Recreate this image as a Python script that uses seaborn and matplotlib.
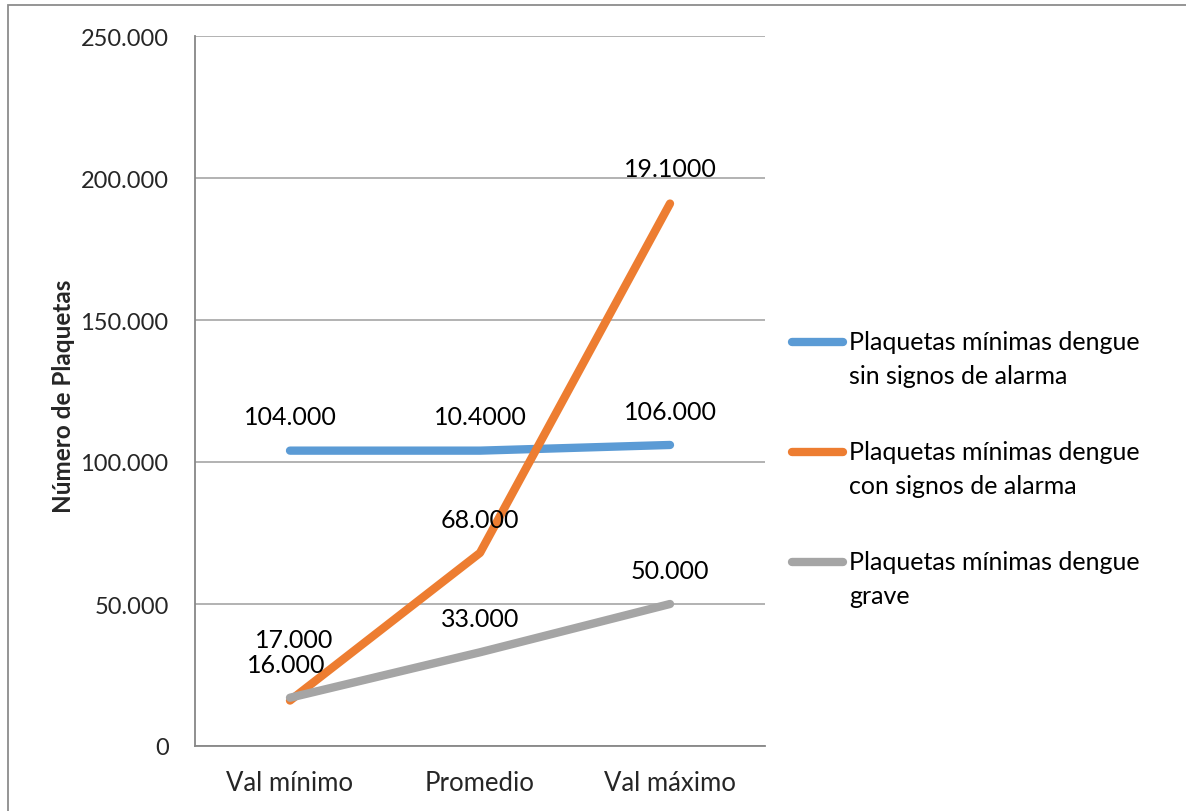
import matplotlib
matplotlib.use("Agg")
import matplotlib.pyplot as plt
from matplotlib.lines import Line2D
from matplotlib.patches import Rectangle
import seaborn as sns
import pandas as pd

# Data
categories = ["Val mínimo", "Promedio", "Val máximo"]
series_names = [
    "Plaquetas mínimas dengue\nsin signos de alarma",
    "Plaquetas mínimas dengue\ncon signos de alarma",
    "Plaquetas mínimas dengue\ngrave",
]
sin_alarma = [104000, 104000, 106000]
con_alarma = [16000, 68000, 191000]
grave = [17000, 33000, 50000]

# Data labels as printed on the chart
sin_alarma_labels = ["104.000", "10.4000", "106.000"]
con_alarma_labels = ["16.000", "68.000", "19.1000"]
grave_labels = ["17.000", "33.000", "50.000"]

y_ticks = [0, 50000, 100000, 150000, 200000, 250000]
y_tick_labels = ["0", "50.000", "100.000", "150.000", "200.000", "250.000"]

colors = ["#5B9BD5", "#ED7D31", "#A5A5A5"]

sns.set_theme(style="white")
plt.rcParams["font.family"] = ["Lato", "DejaVu Sans"]

W, H = 1186, 812
LW = 6.0

values = [sin_alarma, con_alarma, grave]
df = pd.DataFrame(
    [
        {"Categoría": c, "pos": i, "Serie": s, "Valor": v}
        for s, vals in zip(series_names, values)
        for i, (c, v) in enumerate(zip(categories, vals))
    ]
)

fig = plt.figure(figsize=(W / 100, H / 100), dpi=100)
ax = fig.add_axes([195 / W, 65 / H, 570 / W, 710 / H])

sns.lineplot(
    data=df, x="pos", y="Valor", hue="Serie", palette=colors,
    linewidth=LW, ax=ax, legend=False, sort=False,
)
for line in ax.get_lines():
    line.set_solid_capstyle("round")
    line.set_solid_joinstyle("round")

ax.set_xlim(-0.5, 2.5)
ax.set_ylim(0, 250000)
ax.set_xticks(range(len(categories)))
ax.set_xticklabels(categories, fontsize=18.5)
ax.set_yticks(y_ticks)
ax.set_yticklabels(y_tick_labels, fontsize=17)
ax.tick_params(axis="x", pad=17, length=0)
ax.tick_params(axis="y", pad=19, length=0)
ax.set_xlabel("")
ax.set_ylabel("Número de Plaquetas", fontsize=17.5, fontweight="bold")
ax.yaxis.set_label_coords((75 - 195) / 570, (747 - 396) / 710)

ax.grid(axis="y", color="#A6A6A6", linewidth=1.2)
ax.set_axisbelow(True)
for side in ["top", "right"]:
    ax.spines[side].set_visible(False)
for side in ["left", "bottom"]:
    ax.spines[side].set_color("#878787")
    ax.spines[side].set_linewidth(1.3)

# Data labels above each point
label_sets = [sin_alarma_labels, con_alarma_labels, grave_labels]
offsets = [
    [(0, 24.5), (0, 24.5), (0, 24)],
    [(-3, 26), (0, 24), (0, 25)],
    [(3, 42), (0, 24), (0, 24)],
]
for vals, labs, offs in zip(values, label_sets, offsets):
    for i, (v, lab, off) in enumerate(zip(vals, labs, offs)):
        ax.annotate(lab, (i, v), xytext=off, textcoords="offset points",
                    ha="center", va="center", fontsize=18, color="#000000")

# Legend: line sample aligned with the first line of each two-line entry
legend_rows = [343, 453, 563]
for name, color, yc in zip(series_names, colors, legend_rows):
    fig.add_artist(Line2D([792 / W, 843 / W], [1 - yc / H, 1 - yc / H],
                          transform=fig.transFigure, color=color,
                          linewidth=LW, solid_capstyle="round"))
    for k, part in enumerate(name.split("\n")):
        fig.text(849 / W, 1 - (yc + 34 * k) / H, part, ha="left",
                 va="center", fontsize=18, color="#000000")

# Chart border
fig.patches.append(Rectangle((8 / W, -0.1), 1.2, 1.1 - 6 / H,
                             transform=fig.transFigure, fill=False,
                             edgecolor="#8C8C8C", linewidth=1.3))

fig.savefig("out.png", dpi=100)
